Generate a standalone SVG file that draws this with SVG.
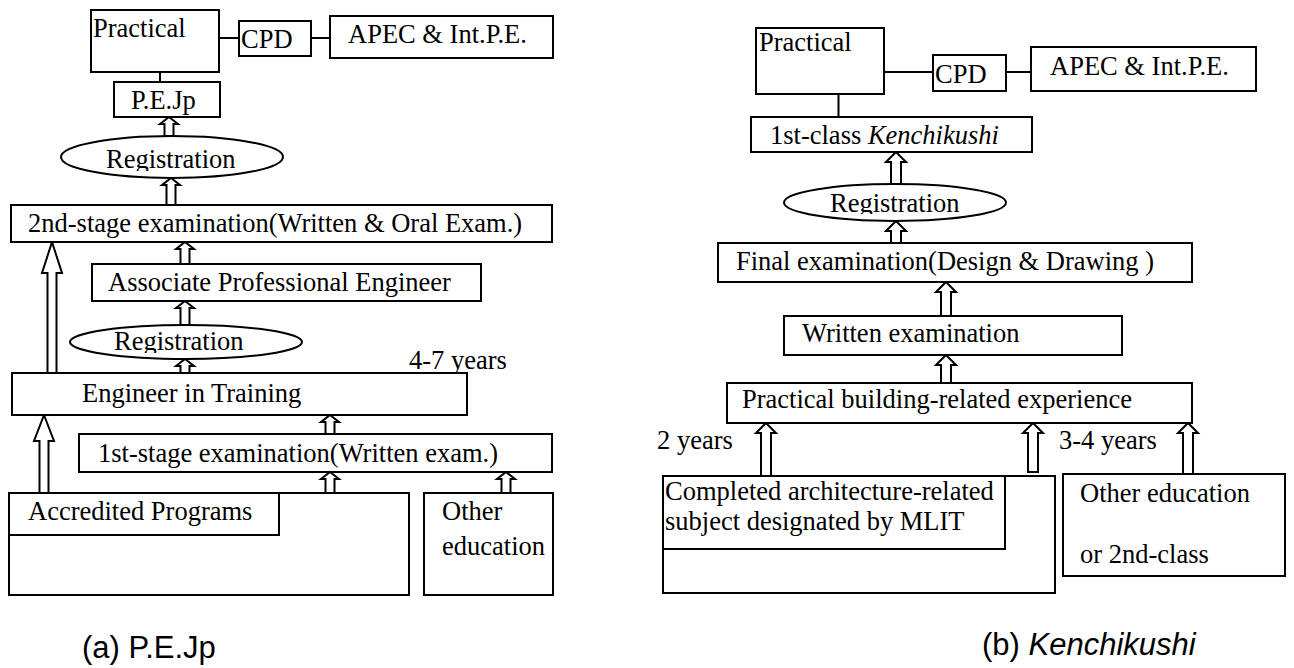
<svg xmlns="http://www.w3.org/2000/svg" width="1294" height="668" viewBox="0 0 1294 668">
  <style>
    .box { fill: #fff; stroke: #000; stroke-width: 2; }
    .ell { fill: #fff; stroke: #000; stroke-width: 2; }
    .link { fill: none; stroke: #000; stroke-width: 2; }
    .arr { fill: #fff; stroke: #000; stroke-width: 2; stroke-linejoin: miter; }
    .t { font-family: "Liberation Serif", "Times New Roman", serif; font-size: 26.5px; fill: #000; }
    .it { font-style: italic; }
    .cap { font-family: "Liberation Sans", Arial, sans-serif; font-size: 31px; fill: #000; }
  </style>
  <defs>
    <clipPath id="clipRegA"><rect x="60" y="130" width="230" height="41"/></clipPath>
    <clipPath id="clipRegB"><rect x="60" y="320" width="250" height="33"/></clipPath>
    <clipPath id="clipRegC"><rect x="780" y="180" width="230" height="34"/></clipPath>
  </defs>
  <rect width="1294" height="668" fill="#fff"/>

  <!-- (a) P.E.Jp -->
  <g id="connectors-a">
    <path class="link" d="M219 38H239M311 38H330M160 72V82"/>
    <path class="arr" d="M169 117L178 124L173.5 124L173.5 136L164.5 136L164.5 124L160 124Z"/>
    <path class="arr" d="M171 178L180 185L175.5 185L175.5 205L166.5 205L166.5 185L162 185Z"/>
    <path class="arr" d="M185 242L194 249L189.5 249L189.5 264L180.5 264L180.5 249L176 249Z"/>
    <path class="arr" d="M185 301L194 308L189.5 308L189.5 325L180.5 325L180.5 308L176 308Z"/>
    <path class="arr" d="M185 359L194 366L189.5 366L189.5 373L180.5 373L180.5 366L176 366Z"/>
    <path class="arr" d="M52 242L62 273L56.5 273L56.5 373L47.5 373L47.5 273L42 273Z"/>
    <path class="arr" d="M44 415L54 441L48.5 441L48.5 493L39.5 493L39.5 441L34 441Z"/>
    <path class="arr" d="M330 415L339 422L334.5 422L334.5 434L325.5 434L325.5 422L321 422Z"/>
    <path class="arr" d="M330 472L339 479L334.5 479L334.5 493L325.5 493L325.5 479L321 479Z"/>
    <path class="arr" d="M506 472L515 479L510.5 479L510.5 493L501.5 493L501.5 479L497 479Z"/>
  </g>
  <g id="a-practical"><rect class="box" x="91" y="10" width="128" height="62"/><text class="t" x="93" y="37">Practical</text></g>
  <g id="a-cpd"><rect class="box" x="239" y="21" width="72" height="35"/><text class="t" x="241" y="48">CPD</text></g>
  <g id="a-apec"><rect class="box" x="330" y="16" width="223" height="42"/><text class="t" x="348" y="43">APEC &amp; Int.P.E.</text></g>
  <g id="a-pejp"><rect class="box" x="114" y="82" width="106" height="35"/><text class="t" x="131" y="109">P.E.Jp</text></g>
  <g id="a-registration-1"><ellipse class="ell" cx="172" cy="157" rx="111" ry="21"/><text class="t" x="106" y="168" clip-path="url(#clipRegA)">Registration</text></g>
  <g id="a-second-stage"><rect class="box" x="11" y="205" width="541" height="37"/><text class="t" x="28" y="232">2nd-stage examination(Written &amp; Oral Exam.)</text></g>
  <g id="a-associate"><rect class="box" x="92" y="264" width="389" height="37"/><text class="t" x="108" y="291">Associate Professional Engineer</text></g>
  <g id="a-registration-2"><ellipse class="ell" cx="186" cy="342" rx="116" ry="17"/><text class="t" x="114" y="350" clip-path="url(#clipRegB)">Registration</text></g>
  <g id="a-years"><text class="t" x="409" y="369">4-7 years</text></g>
  <g id="a-eit"><rect class="box" x="12" y="373" width="455" height="42"/><text class="t" x="82" y="402">Engineer in Training</text></g>
  <g id="a-first-stage"><rect class="box" x="79" y="434" width="473" height="38"/><text class="t" x="98" y="462">1st-stage examination(Written exam.)</text></g>
  <g id="a-accredited">
    <rect class="box" x="9" y="493" width="400" height="102"/>
    <rect class="box" x="9" y="493" width="270" height="42"/>
    <text class="t" x="28" y="520">Accredited Programs</text>
  </g>
  <g id="a-other"><rect class="box" x="424" y="493" width="129" height="102"/><text class="t" x="442" y="520">Other</text><text class="t" x="442" y="555">education</text></g>
  <text class="cap" x="82" y="658">(a) P.E.Jp</text>

  <!-- (b) Kenchikushi -->
  <g id="connectors-b">
    <path class="link" d="M884 72H933M1006 72H1031M838.5 94V117"/>
    <path class="arr" d="M896 152L906 162L901 162L901 184L891 184L891 162L886 162Z"/>
    <path class="arr" d="M896 221L906 231L901 231L901 243L891 243L891 231L886 231Z"/>
    <path class="arr" d="M946 282L956 292L951 292L951 316L941 316L941 292L936 292Z"/>
    <path class="arr" d="M946 355L956 365L951 365L951 383L941 383L941 365L936 365Z"/>
    <path class="arr" d="M766 423L776 433L771 433L771 476L761 476L761 433L756 433Z"/>
    <path class="arr" d="M1033 423L1043 433L1038 433L1038 472L1028 472L1028 433L1023 433Z"/>
    <path class="arr" d="M1188 423L1198 433L1193 433L1193 474L1183 474L1183 433L1178 433Z"/>
  </g>
  <g id="b-practical"><rect class="box" x="756" y="28" width="128" height="66"/><text class="t" x="759" y="51">Practical</text></g>
  <g id="b-cpd"><rect class="box" x="933" y="55" width="73" height="36"/><text class="t" x="935" y="83">CPD</text></g>
  <g id="b-apec"><rect class="box" x="1031" y="47" width="225" height="44"/><text class="t" x="1050" y="75">APEC &amp; Int.P.E.</text></g>
  <g id="b-first-class"><rect class="box" x="751" y="117" width="281" height="35"/><text class="t" x="770" y="144">1st-class <tspan class="it">Kenchikushi</tspan></text></g>
  <g id="b-registration"><ellipse class="ell" cx="895" cy="202.5" rx="111" ry="18.5"/><text class="t" x="830" y="212" clip-path="url(#clipRegC)">Registration</text></g>
  <g id="b-final"><rect class="box" x="718" y="243" width="474" height="39"/><text class="t" x="736" y="270">Final examination(Design &amp; Drawing )</text></g>
  <g id="b-written"><rect class="box" x="784" y="316" width="338" height="39"/><text class="t" x="802" y="342">Written examination</text></g>
  <g id="b-experience"><rect class="box" x="727" y="383" width="465" height="40"/><text class="t" x="742" y="408">Practical building-related experience</text></g>
  <g id="b-years-2"><text class="t" x="657" y="449">2 years</text></g>
  <g id="b-years-34"><text class="t" x="1059" y="449">3-4 years</text></g>
  <g id="b-completed">
    <rect class="box" x="663" y="476" width="392" height="117"/>
    <rect class="box" x="663" y="476" width="342" height="73"/>
    <text class="t" x="665" y="500">Completed architecture-related</text>
    <text class="t" x="665" y="530">subject designated by MLIT</text>
  </g>
  <g id="b-other"><rect class="box" x="1063" y="474" width="222" height="102"/><text class="t" x="1080" y="502">Other education</text><text class="t" x="1080" y="563">or 2nd-class</text></g>
  <text class="cap" x="982" y="655">(b) <tspan class="it">Kenchikushi</tspan></text>
</svg>
